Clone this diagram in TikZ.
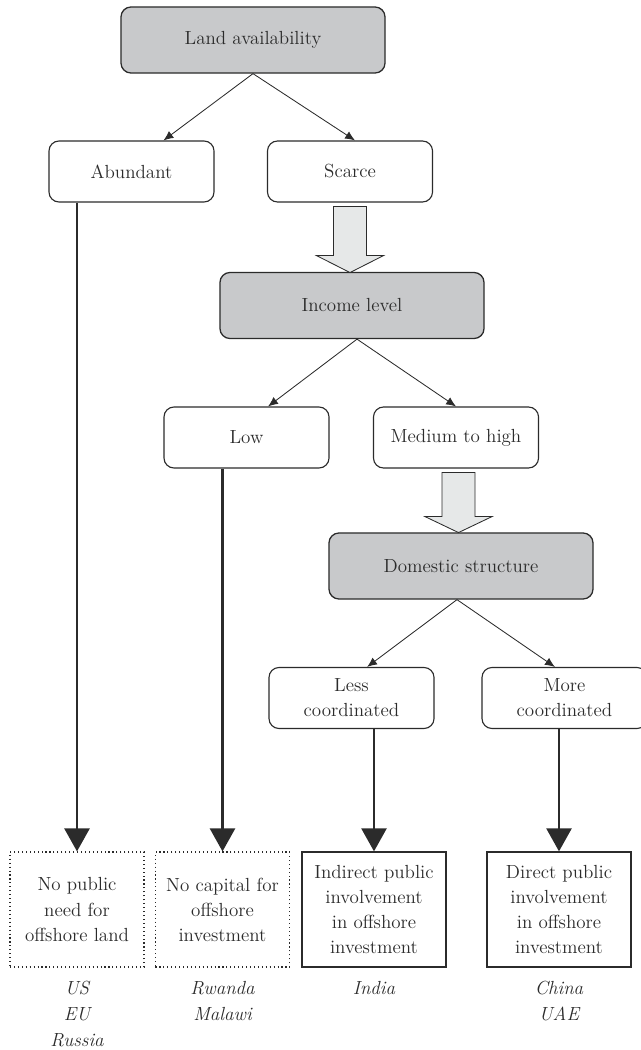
\documentclass[tikz,border=0pt]{standalone}
\usepackage{amsmath,amssymb}
\usetikzlibrary{arrows.meta}
\definecolor{boxgray}{HTML}{C8C9CB}
\definecolor{arrowgray}{HTML}{E6E8E8}
\definecolor{edge}{HTML}{2B2B2B}

\begin{document}
\begin{tikzpicture}[x=0.025cm,y=-0.025cm,>={Latex[length=7pt,width=6pt]},
  font=\fontsize{13.5}{17.8}\selectfont,text=edge,
  question/.style={draw=edge,fill=boxgray,rounded corners=0.25cm,line width=0.9pt,minimum width=6.6cm,minimum height=1.65cm,inner sep=0pt},
  choice/.style={draw=edge,rounded corners=0.25cm,line width=0.8pt,minimum width=4.125cm,minimum height=1.525cm,align=center,inner sep=0pt},
  outcome/.style={draw=edge,line width=0.9pt,minimum width=3.6cm,minimum height=2.875cm,align=center,inner sep=0pt},
  emptybox/.style={draw=edge,dotted,line width=0.8pt,minimum width=3.35cm,minimum height=2.875cm,align=center,inner sep=0pt},
  country/.style={font=\fontsize{13.5}{18.5}\selectfont\itshape,align=center,anchor=north,inner sep=0pt},
  branch/.style={->,line width=0.6pt,draw=edge},
  bigarrow/.style={-{Triangle[length=0.575cm,width=0.625cm]},line width=1.8pt,draw=edge},
  hollow/.style={draw=edge,fill=arrowgray,line width=0.6pt,line join=miter}]
\useasboundingbox (0,0) rectangle (640,1050);
% questions and answers
\node[question] (land) at (253,40) {Land availability};
\node[choice] (abund) at (131.5,171.5) {Abundant};
\node[choice] (scarce) at (350,171.5) {Scarce};
\node[question] (income) at (352,305.5) {Income level};
\node[choice] (low) at (246.5,437.5) {Low};
\node[choice] (med) at (456,437.5) {Medium to high};
\node[question] (dom) at (461,566) {Domestic structure};
\node[choice] (less) at (351.5,698) {Less\\coordinated};
\node[choice] (more) at (564.5,698) {More\\coordinated};
% outcomes
\node[emptybox] (nopub) at (77,909.5) {No public\\need for\\offshore land};
\node[emptybox] (nocap) at (222.5,909.5) {No capital for\\offshore\\investment};
\node[outcome] (indir) at (374,909.5) {Indirect public\\involvement\\in offshore\\investment};
\node[outcome] (dir) at (559,909.5) {Direct public\\involvement\\in offshore\\investment};
\node[country] (us) at (77,981) {US\\EU\\Russia};
\node[country] (rwanda) at (222.5,981) {Rwanda\\Malawi};
\node[country] (india) at (374,981) {India};
\node[country] (china) at (559,981) {China\\UAE};
% branches
\draw[branch] (land.south) -- ([xshift=0.8cm]abund.north);
\draw[branch] (land.south) -- ([xshift=0.125cm]scarce.north);
\draw[branch] ([xshift=0.125cm]income.south) -- ([xshift=0.54cm]low.north);
\draw[branch] ([xshift=0.125cm]income.south) -- (med.north);
\draw[branch] ([xshift=-0.1cm]dom.south) -- ([xshift=0.39cm]less.north);
\draw[branch] ([xshift=-0.1cm]dom.south) -- ([xshift=-0.24cm]more.north);
% block arrows
\draw[hollow] (scarce.south) ++(-16.5,4) -- ++(33,0) -- ++(0,49) -- ++(17,0) -- ++(-33.5,17) -- ++(-33.5,-17) -- ++(17,0) -- cycle;
\draw[hollow] (med.south) ++(-14,4) -- ++(33,0) -- ++(0,44) -- ++(17,0) -- ++(-33.5,16) -- ++(-33.5,-16) -- ++(17,0) -- cycle;
% thick arrows
\draw[bigarrow] (abund.south -| nopub.north) -- (nopub.north);
\draw[bigarrow] (low.south -| nocap.north) -- (nocap.north);
\draw[bigarrow] (less.south -| indir.north) -- (indir.north);
\draw[bigarrow] (more.south -| dir.north) -- (dir.north);
\end{tikzpicture}
\end{document}
